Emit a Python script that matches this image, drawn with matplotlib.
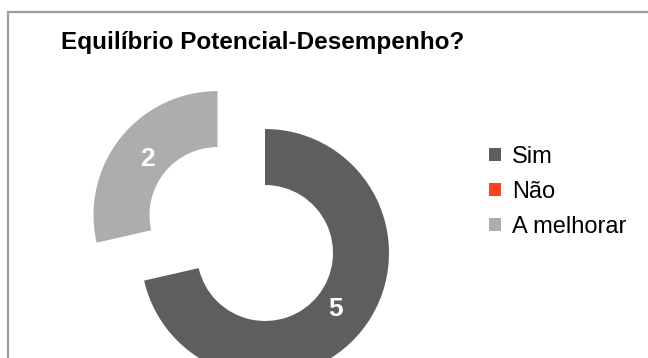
import numpy as np
import matplotlib.pyplot as plt
from matplotlib.patches import Rectangle

categorias = ['Sim', 'Não', 'A melhorar']
valores = [5, 0, 2]
cores = ['#5e5e5e', '#ff4218', '#adadad']
afastamento = [0.0, 0.0, 0.49]  # fração do raio

plt.rcParams['font.family'] = ['Liberation Sans', 'DejaVu Sans']

raio = 124
centro = (265, 358 - 253)

fig = plt.figure(figsize=(6.48, 3.58), dpi=100)
ax = fig.add_axes([0, 0, 1, 1])

# moldura cinzenta (cortada à direita e em baixo)
fig.patches.append(Rectangle((8 / 648, -0.1), 1.2, (346 + 36) / 358,
                             transform=fig.transFigure, fill=False,
                             edgecolor='#9c9c9c', linewidth=1.6))

wedges, texts = ax.pie(valores, colors=cores,
                       explode=[e * raio for e in afastamento],
                       startangle=90, counterclock=False,
                       radius=raio, center=centro,
                       wedgeprops=dict(width=56, edgecolor='none'),
                       frame=True)
ax.set_xlim(0, 648)
ax.set_ylim(0, 358)
ax.set_aspect('equal')
ax.axis('off')

# rótulos dos valores
total = sum(valores)
ang = 90.0
for v, ex in zip(valores, afastamento):
    if v == 0:
        continue
    meio = np.deg2rad(ang - 360.0 * v / total / 2)
    cx = centro[0] + ex * raio * np.cos(meio)
    cy = centro[1] + ex * raio * np.sin(meio)
    ax.text(cx + 90 * np.cos(meio), cy + 90 * np.sin(meio), str(v),
            color='white', fontsize=19, fontweight='bold',
            ha='center', va='center')
    ang -= 360.0 * v / total

fig.text(263 / 648, 1 - 43 / 358, 'Equilíbrio Potencial-Desempenho?',
         ha='center', va='center', fontsize=17.5, fontweight='bold')

ax.legend(wedges, categorias, loc='center left',
          bbox_to_anchor=(468 / 648, 1 - 192 / 358), frameon=False,
          fontsize=17, handlelength=0.5, handleheight=0.5,
          handletextpad=0.45, labelspacing=0.55)

fig.savefig('out.png', dpi=100)
